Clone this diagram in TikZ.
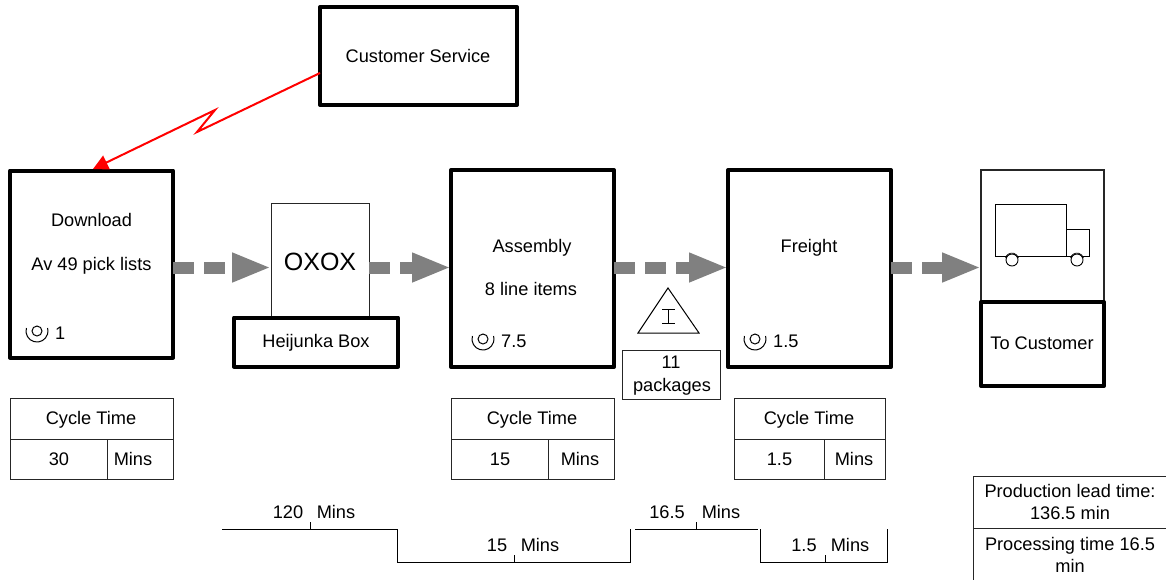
\documentclass[tikz,border=0pt]{standalone}
\usepackage{fontspec}
\setmainfont{Liberation Sans}
\usetikzlibrary{arrows.meta}
\definecolor{pushgrey}{HTML}{808080}
\newcommand{\opicon}[2]{%
  \draw[thinline] (#1,#2) circle (5);
  \draw[thinline] (#1-10.6,#2-3) arc[start angle=196,end angle=-16,radius=11];
}
\tikzset{
  x=1pt,y=-1pt,
  heavy/.style={draw=black,line width=4pt,line join=round,fill=white,inner sep=0pt,outer sep=0pt},
  light/.style={draw=black!85,line width=1.1pt,fill=white,inner sep=0pt,outer sep=0pt},
  thinline/.style={draw=black,line width=1pt},
  label/.style={anchor=base,inner sep=0pt,font=\fontsize{18.2}{22}\selectfont,align=center},
  push/.style={draw=pushgrey,line width=12pt,dash pattern=on 21pt off 10pt,
    -{Triangle[length=39pt,width=27pt,fill=pushgrey]}},
  elec/.style={draw=red,line width=2pt,line join=miter,-{Triangle[length=15pt,width=15pt,fill=red]}},
}
\begin{document}
\begin{tikzpicture}
\useasboundingbox (0,0) rectangle (1166,579);
\coordinate (row) at (0,267.5);
% boxes
\node[heavy,minimum width=197pt,minimum height=98pt] (cs) at (418.5,56) {};
\node[heavy,minimum width=163pt,minimum height=187pt] (dl) at (91.5,264) {};
\node[light,minimum width=98pt,minimum height=114pt] (ox) at (320.1,260.1) {};
\node[heavy,minimum width=164pt,minimum height=49pt] (hj) at (316,342) {};
\node[heavy,minimum width=163pt,minimum height=197pt] (as) at (532.5,268.5) {};
\node[heavy,minimum width=163pt,minimum height=197pt] (fr) at (809.5,268.5) {};
\node[light,line width=1.4pt,minimum width=123pt,minimum height=132pt] (tr) at (1042.6,236.1) {};
\node[heavy,minimum width=123pt,minimum height=84pt] (tc) at (1042.5,344) {};
% push arrows
\draw[push] (dl.east |- row) -- (ox.west |- row);
\draw[push] (ox.east |- row) -- (as.west |- row);
\draw[push] (as.east |- row) -- (fr.west |- row);
\draw[push] (fr.east |- row) -- (tr.west |- row);
% electronic flow
\coordinate (csout) at (320,73);
\coordinate (zz1) at (197,132);
\coordinate (zz2) at (215,110);
\coordinate (dlin) at (93,169);
\draw[elec] (csout) -- (zz1) -- (zz2) -- (dlin);
% box text
\node[label] (t1) at (418,62) {Customer Service};
\node[label] (t2) at (91.5,226) {Download};
\node[label] (t3) at (91.5,270) {Av 49 pick lists};
\node[label] (t4) at (320,270) {\fontsize{25}{30}\selectfont OXOX};
\node[label] (t5) at (316,347) {Heijunka Box};
\node[label] (t6) at (532,252) {Assembly};
\node[label] (t7) at (531,295) {8 line items};
\node[label] (t8) at (809,252) {Freight};
\node[label] (t9) at (1042,349) {To Customer};
% operators
\opicon{37}{331}
\node[label,anchor=base west] (t10) at (55,339) {1};
\opicon{483}{339}
\node[label,anchor=base west] (t11) at (501,347) {7.5};
\opicon{755}{339}
\node[label,anchor=base west] (t12) at (773,347) {1.5};
% truck
\draw[thinline,line width=.9pt] (995,256) rectangle (1066,204);
\draw[thinline,line width=.9pt] (1066,256) rectangle (1089,229);
\foreach \wx in {1012,1077}{
  \draw[thinline,line width=.9pt,fill=white] (\wx,260) circle (6);
  \draw[thinline,line width=.7pt] (\wx-6.5,258) arc[start angle=195,end angle=345,radius=6.7];
}
% inventory
\draw[thinline,line join=miter] (668,288) -- (699,333) -- (638,333) -- cycle;
\draw[thinline] (662,309) -- (675,309) (668.5,309) -- (668.5,323) (662,323) -- (675,323);
\node[light,minimum width=98pt,minimum height=49pt] (inv) at (671.1,374.6) {};
\node[label] (t13) at (671,368) {11};
\node[label] (t14) at (672,391) {packages};
% data boxes
\node[light,minimum width=163pt,minimum height=81pt] (d1) at (91.6,439.3) {};
\draw[light] (d1.west) -- (d1.east) (107.8,439.3) -- (107.8,479.8);
\node[label] (t15) at (91,424) {Cycle Time};
\node[label] (t16) at (59,465) {30};
\node[label] (t17) at (133,465) {Mins};
\node[light,minimum width=163pt,minimum height=81pt] (d2) at (532.6,439.3) {};
\draw[light] (d2.west) -- (d2.east) (548.8,439.3) -- (548.8,479.8);
\node[label] (t18) at (532,424) {Cycle Time};
\node[label] (t19) at (500,465) {15};
\node[label] (t20) at (580,465) {Mins};
\node[light,minimum width=151pt,minimum height=81pt] (d3) at (809.6,439.3) {};
\draw[light] (d3.west) -- (d3.east) (824.5,439.3) -- (824.5,479.8);
\node[label] (t21) at (809,424) {Cycle Time};
\node[label] (t22) at (779.5,465) {1.5};
\node[label] (t23) at (854,465) {Mins};
% summary table
\node[light,minimum width=200pt,minimum height=110pt] (sm) at (1073.1,531.1) {};
\coordinate (smdiv) at (0,528.7);
\draw[light] (sm.west |- smdiv) -- (sm.east |- smdiv);
\node[label] (t24) at (1070,497) {Production lead time:};
\node[label] (t25) at (1070,519) {136.5 min};
\node[label] (t26) at (1070,550) {Processing time 16.5};
\node[label] (t27) at (1070,572) {min};
% timeline
\draw[thinline] (222,529) -- (397.7,529) -- (397.7,562) -- (630,562) -- (630,529);
\draw[thinline] (635,529) -- (758,529);
\draw[thinline] (760.7,529) -- (760.7,562) -- (887.7,562) -- (887.7,529);
\draw[thinline] (310,522) -- (310,529) (514,555) -- (514,562) (696,522) -- (696,529) (825,555) -- (825,562);
\node[label] (t28) at (288,518) {120};
\node[label] (t29) at (336,518) {Mins};
\node[label] (t30) at (497,551) {15};
\node[label] (t31) at (540,551) {Mins};
\node[label] (t32) at (667,518) {16.5};
\node[label] (t33) at (721,518) {Mins};
\node[label] (t34) at (804,551) {1.5};
\node[label] (t35) at (850,551) {Mins};
\end{tikzpicture}
\end{document}
